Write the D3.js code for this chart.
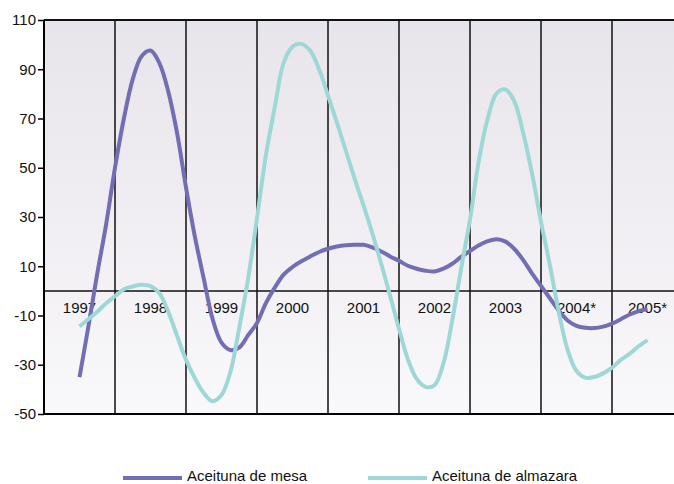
<!DOCTYPE html>
<html>
<head>
<meta charset="utf-8">
<script src="https://cdn.jsdelivr.net/npm/d3@7"></script>
<style>
html,body{margin:0;padding:0;background:#fff;}
svg{display:block;font-family:"Liberation Sans",Arial,Helvetica,sans-serif;}
</style>
</head>
<body>
<svg id="chart" width="674" height="484"></svg>
<script>
// ---- data ----
const years = ["1997","1998","1999","2000","2001","2002","2003","2004*","2005*"];
const yTicks = [110, 90, 70, 50, 30, 10, -10, -30, -50];
const tStart = 1997, tStep = 0.125; // sample positions in years
const mesa = [-35,-14.5,7,27,50,70,86,95.3,97.6,92.5,81,64,42,22,5,-11.5,-21,-24,-23,-18,-13,-5,1.3,6.6,9.7,12,14,15.8,17.1,18,18.5,18.7,18.7,17.7,16,14,12.2,10.2,9,8.2,7.9,9,11,13.8,16.2,18.5,20.2,21,20,17,12.5,7,2,-3,-8,-12,-14.2,-15,-15.1,-14.5,-13.3,-11.5,-9.6,-8.2,-7.4];
const almazara = [-14.4,-11.5,-8.5,-5,-2.2,0.7,1.8,2.5,1.9,-1,-8.5,-18.3,-28,-35.5,-41.5,-44.8,-42.3,-33,-15,5,29.5,55,74.5,92.6,99.2,100.3,97.5,90,79.3,68.4,57,45.6,34.7,23.3,11,-2,-15.4,-27.8,-35.8,-39,-38.3,-29.5,-12,9,29,53,70,80.2,81.8,77,64,47.5,28,10.5,-8.5,-24,-32.5,-35.2,-35,-33.5,-31.2,-28,-25.5,-22.5,-20];
const seriesNames = ["Aceituna de mesa","Aceituna de almazara"];
const seriesColors = ["#716eb4","#9dd8d6"];

// ---- layout ----
const svg = d3.select("#chart");
const L = 44, T = 20, B = 414, bandW = 71;
const R = L + bandW * years.length;

const x = d3.scaleLinear().domain([1996.5, 1996.5 + years.length]).range([L, R]);
const y = d3.scaleLinear().domain([-50, 110]).range([B, T]);

// background gradient
const defs = svg.append("defs");
const grad = defs.append("linearGradient").attr("id","bg").attr("x1",0).attr("y1",0).attr("x2",0).attr("y2",1);
grad.append("stop").attr("offset","0%").attr("stop-color","#e8e4eb");
grad.append("stop").attr("offset","100%").attr("stop-color","#f9f8fa");
defs.append("clipPath").attr("id","clip").append("rect").attr("x",L).attr("y",T).attr("width",R-L).attr("height",B-T);

svg.append("rect").attr("x",L).attr("y",T).attr("width",R-L).attr("height",B-T).attr("fill","url(#bg)");

// vertical separators between year bands
const g = svg.append("g");
g.selectAll("line.v").data(d3.range(1, years.length)).join("line")
  .attr("x1", i => x(1996.5 + i)).attr("x2", i => x(1996.5 + i))
  .attr("y1", T).attr("y2", B)
  .attr("stroke","#111").attr("stroke-width",1.5);

// zero line
g.append("line").attr("x1",L).attr("x2",R).attr("y1",y(0)).attr("y2",y(0))
  .attr("stroke","#111").attr("stroke-width",1.5);

// top border
g.append("line").attr("x1",L).attr("x2",R).attr("y1",T).attr("y2",T)
  .attr("stroke","#111").attr("stroke-width",2);

// year labels
g.selectAll("text.yr").data(years).join("text")
  .attr("x", (d,i) => x(1997 + i)).attr("y", 313)
  .attr("text-anchor","middle").attr("font-size",15).attr("fill","#111")
  .text(d => d);

// y axis
const yAxis = d3.axisLeft(y).tickValues(yTicks).tickSize(6).tickPadding(2).tickFormat(d => String(d));
const ya = svg.append("g").attr("transform",`translate(${L},0)`).call(yAxis);
ya.select(".domain").attr("stroke","#000").attr("stroke-width",2).attr("d",`M0,${T}V${B}`);
ya.selectAll(".tick line").attr("stroke","#000").attr("stroke-width",1.5);
ya.selectAll(".tick text").attr("font-size",15).attr("fill","#111").attr("font-family","Liberation Sans, Arial, sans-serif");

// x axis (bottom line)
svg.append("line").attr("x1",L-1).attr("x2",R).attr("y1",B).attr("y2",B)
  .attr("stroke","#000").attr("stroke-width",2);

// series
const line = d3.line().x((d,i) => x(tStart + i*tStep)).y(d => y(d)).curve(d3.curveCatmullRom.alpha(0.5));
const lines = svg.append("g").attr("clip-path","url(#clip)");
[mesa, almazara].forEach((s, k) => {
  lines.append("path").datum(s).attr("d", line).attr("fill","none")
    .attr("stroke", seriesColors[k]).attr("stroke-width",4)
    .attr("stroke-linejoin","round").attr("stroke-linecap","butt");
});

// legend
const legX = [123, 368];
const leg = svg.append("g");
seriesNames.forEach((n, k) => {
  leg.append("line").attr("x1",legX[k]).attr("x2",legX[k]+59).attr("y1",478).attr("y2",478)
    .attr("stroke",seriesColors[k]).attr("stroke-width",4);
  leg.append("text").attr("x",legX[k]+64).attr("y",481).attr("font-size",15).attr("fill","#111").text(n);
});
</script>
</body>
</html>
